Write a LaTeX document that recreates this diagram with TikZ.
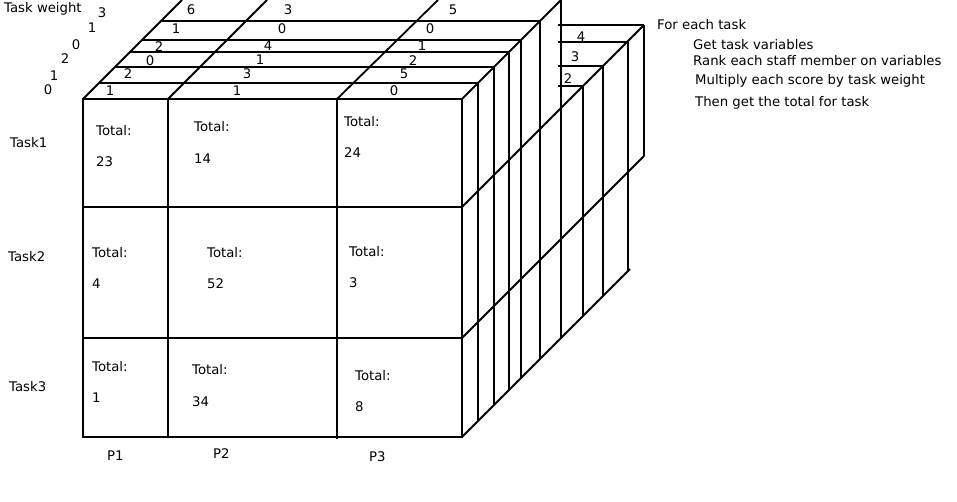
\documentclass[tikz,border=0pt]{standalone}
\usepackage{fontspec}
\setmainfont{DejaVu Sans}
\begin{document}
\begin{tikzpicture}[x=1bp,y=-1bp,
  ln/.style={line width=1.8bp, line join=miter},
  lbl/.style={font=\fontsize{13.3}{15}\selectfont, inner sep=0pt},
  lft/.style={lbl, anchor=west},
  num/.style={lbl, anchor=center}]
\useasboundingbox (0,0) rectangle (957,502);
\begin{scope}
\clip (0,0) rectangle (957,502);
% front face
\draw[ln] (83,99) rectangle (462,437);
\draw[ln] (168,99) -- (168,437);
\draw[ln] (337,99) -- (337,439);
\draw[ln] (83,207) -- (462,207);
\draw[ln] (83,338) -- (462,338);
% top layers: diagonals
\draw[ln] (83,99) -- (182,0);
\draw[ln] (168,99) -- (267,0);
\draw[ln] (337,99) -- (438,0);
\draw[ln] (462,99) -- (561,0);
% top layers: horizontals
\foreach \y in {21,40,52,67,83} {
  \draw[ln] ({83+99-\y},\y) -- ({462+99-\y},\y);
}
% verticals behind right face
\foreach \y in {21,40,52,67,83} {
  \draw[ln] ({462+99-\y},\y) -- ({462+99-\y},{437-(99-\y)});
}
\draw[ln] (561,0) -- (561,338);
% right group
\draw[ln] (558,25) -- (644,25);
\draw[ln] (558,42) -- (627,42);
\draw[ln] (558,66) -- (603,66);
\draw[ln] (558,86) -- (583,86);
\draw[ln] (462,207) -- (644,25);
\draw[ln] (462,338) -- (644,156);
\draw[ln] (462,437) -- (630,269);
\draw[ln] (644,25) -- (644,156);
\draw[ln] (628,42) -- (628,271);
\draw[ln] (603,66) -- (603,296);
\draw[ln] (583,86) -- (583,316);
\end{scope}
% labels
\node[lft] (tw) at (4,9) {Task weight};
\node[num] (w1) at (102,13) {3};
\node[num] (w2) at (92,28) {1};
\node[num] (w3) at (76,45) {0};
\node[num] (w4) at (65,59) {2};
\node[num] (w5) at (54,76) {1};
\node[num] (w6) at (48,90) {0};
\node[num] (a1) at (191,10) {6};
\node[num] (a2) at (176,29) {1};
\node[num] (a3) at (159,47) {2};
\node[num] (a4) at (150,61) {0};
\node[num] (a5) at (128,74) {2};
\node[num] (a6) at (110,91) {1};
\node[num] (b1) at (288,10) {3};
\node[num] (b2) at (282,29) {0};
\node[num] (b3) at (268,46) {4};
\node[num] (b4) at (260,60) {1};
\node[num] (b5) at (247,74) {3};
\node[num] (b6) at (237,91) {1};
\node[num] (c1) at (453,10) {5};
\node[num] (c2) at (430,29) {0};
\node[num] (c3) at (422,46) {1};
\node[num] (c4) at (413,61) {2};
\node[num] (c5) at (404,74) {5};
\node[num] (c6) at (394,91) {0};
\node[num] (r1) at (581,37) {4};
\node[num] (r2) at (575,57) {3};
\node[num] (r3) at (568,79) {2};
% cells
\node[lft] (t11) at (96,131) {Total:};  \node[lft] (v11) at (96,162) {23};
\node[lft] (t12) at (194,127) {Total:}; \node[lft] (v12) at (194,159) {14};
\node[lft] (t13) at (344,122) {Total:}; \node[lft] (v13) at (344,153) {24};
\node[lft] (t21) at (92,253) {Total:};  \node[lft] (v21) at (92,284) {4};
\node[lft] (t22) at (207,253) {Total:}; \node[lft] (v22) at (207,284) {52};
\node[lft] (t23) at (349,252) {Total:}; \node[lft] (v23) at (349,283) {3};
\node[lft] (t31) at (92,367) {Total:};  \node[lft] (v31) at (92,398) {1};
\node[lft] (t32) at (192,370) {Total:}; \node[lft] (v32) at (192,402) {34};
\node[lft] (t33) at (355,376) {Total:}; \node[lft] (v33) at (355,407) {8};
% row / column labels
\node[lft] (task1) at (10,143) {Task1};
\node[lft] (task2) at (8,257) {Task2};
\node[lft] (task3) at (9,387) {Task3};
\node[lft] (p1) at (107,456) {P1};
\node[lft] (p2) at (213,454) {P2};
\node[lft] (p3) at (369,457) {P3};
% notes
\node[lft] (n1) at (657,25) {For each task};
\node[lft] (n2) at (693,45) {Get task variables};
\node[lft] (n3) at (693,61) {Rank each staff member on variables};
\node[lft] (n4) at (695,81) {Multiply each score by task weight};
\node[lft] (n5) at (695,103) {Then get the total for task};
\end{tikzpicture}
\end{document}
